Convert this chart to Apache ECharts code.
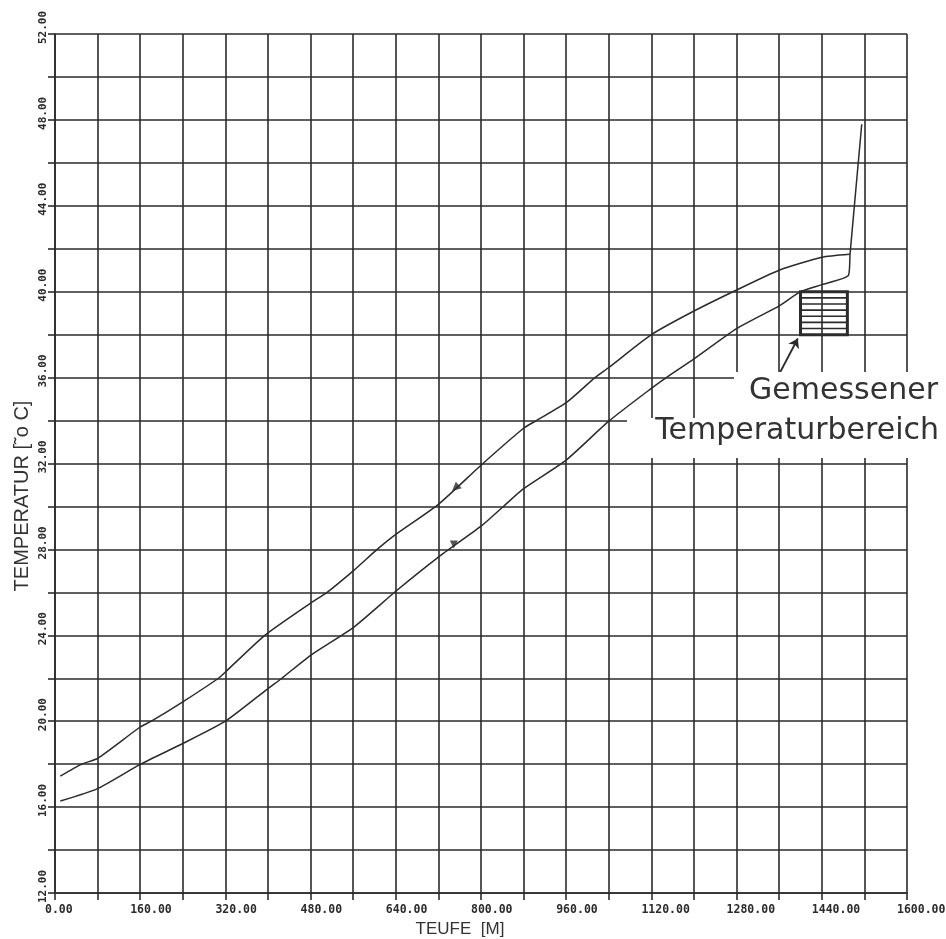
<!DOCTYPE html>
<html><head><meta charset="utf-8">
<script src="https://cdn.jsdelivr.net/npm/echarts@6/dist/echarts.min.js"></script>
<style>html,body{margin:0;padding:0;background:#fff}#c{width:946px;height:939px}</style>
</head><body><div id="c"></div>
<script>
// Upper curve (depth in m, temperature in °C)
const upperDepth = [10,50,80,160,181,240,307,320,394,480,511,560,605,640,720,800,880,904,960,1014,1040,1120,1200,1280,1360,1440,1492];
const upperTemp  = [17.44,18.0,18.27,19.73,20.0,20.9,22.0,22.29,24.0,25.5,26.0,27.0,28.0,28.7,30.1,31.92,33.64,34.0,34.83,36.0,36.47,38.0,39.1,40.08,41.0,41.6,41.74];
// Lower curve
const lowerDepth = [10,80,160,240,320,400,426,480,560,640,720,800,842,880,960,1040,1120,1148,1200,1280,1360,1400,1440,1490,1493,1515];
const lowerTemp  = [16.28,16.86,17.99,18.96,20.0,21.52,22.0,23.07,24.36,26.05,27.64,29.08,30.0,30.83,32.16,33.97,35.5,36.0,36.87,38.28,39.34,40.0,40.33,40.76,41.74,47.8];
// direction markers
const upperMarker = [752, 30.86];
const lowerMarker = [749, 28.23];
// measured temperature range box
const rangeDepth = [1400, 1488];
const rangeTemp  = [38, 40];
// annotation arrow
const arrowFrom = [1362, 36.26];
const arrowTo   = [1395, 37.82];
// tick labels
const xTickLabels = ['0.00','160.00','320.00','480.00','640.00','800.00','960.00','1120.00','1280.00','1440.00','1600.00'];
const yTickLabels = ['12.00','16.00','20.00','24.00','28.00','32.00','36.00','40.00','44.00','48.00','52.00'];
const annotationLines = ['Gemessener', 'Temperaturbereich'];
const xTitle = 'TEUFE  [M]';
const yTitle = 'TEMPERATUR [˜o C]';

const INK = '#2b2b2b';
const zip = (a, b) => a.map((v, i) => [v, b[i]]);

const chart = echarts.init(document.getElementById('c'), null, {renderer: 'canvas'});

chart.setOption({
  animation: false,
  backgroundColor: '#fff',
  grid: {left: 55, right: 39, top: 34, bottom: 46, containLabel: false, outerBoundsMode: 'none'},
  xAxis: {
    type: 'value', min: 0, max: 1600, interval: 80,
    axisLine: {show: true, lineStyle: {color: INK, width: 1.6}},
    axisTick: {show: true, length: 7, lineStyle: {color: INK, width: 1.6}},
    splitLine: {show: true, lineStyle: {color: INK, width: 1.6}},
    axisLabel: {
      margin: 11, align: 'left', verticalAlign: 'top', padding: [0, 0, 0, -10], hideOverlap: false,
      fontFamily: 'DejaVu Sans Mono', fontWeight: 'bold', fontSize: 11.5, color: INK,
      formatter: v => (v % 160 === 0 ? xTickLabels[v / 160] : '')
    }
  },
  yAxis: {
    type: 'value', min: 12, max: 52, interval: 2,
    axisLine: {show: true, lineStyle: {color: INK, width: 1.6}},
    axisTick: {show: true, length: 7, lineStyle: {color: INK, width: 1.6}},
    splitLine: {show: true, lineStyle: {color: INK, width: 1.6}},
    axisLabel: {
      margin: 6, rotate: 90, align: 'left', verticalAlign: 'bottom', padding: [0, 0, 0, -10],
      fontFamily: 'DejaVu Sans Mono', fontWeight: 'bold', fontSize: 11, color: INK,
      formatter: v => (v % 4 === 0 ? yTickLabels[(v - 12) / 4] : '')
    }
  },
  series: [
    {type: 'line', data: zip(upperDepth, upperTemp), showSymbol: false, symbol: 'none', smooth: 0.2,
     lineStyle: {color: INK, width: 1.5}, z: 3},
    {type: 'line', data: zip(lowerDepth, lowerTemp), showSymbol: false, symbol: 'none', smooth: 0.2,
     lineStyle: {color: INK, width: 1.5}, z: 3},
    {type: 'scatter', data: [upperMarker], symbol: 'triangle', symbolSize: 9, symbolRotate: 132,
     itemStyle: {color: INK}, z: 4},
    {type: 'scatter', data: [lowerMarker], symbol: 'triangle', symbolSize: 8, symbolRotate: 180,
     itemStyle: {color: INK}, z: 4},
    {type: 'custom', data: [[rangeDepth[0], rangeDepth[1], rangeTemp[0], rangeTemp[1]]],
     encode: {x: [0, 1], y: [2, 3]}, z: 4,
     renderItem: function (params, api) {
       const p0 = api.coord([api.value(0), api.value(3)]);
       const p1 = api.coord([api.value(1), api.value(2)]);
       const x = p0[0], y = p0[1], w = p1[0] - p0[0], h = p1[1] - p0[1];
       const children = [{type: 'rect', shape: {x: x, y: y, width: w, height: h},
         style: {fill: 'none', stroke: INK, lineWidth: 3}}];
       for (let i = 1; i < 7; i++) {
         const yy = y + h * i / 7;
         children.push({type: 'line', shape: {x1: x, y1: yy, x2: x + w, y2: yy},
           style: {stroke: INK, lineWidth: 1.6}});
       }
       return {type: 'group', children: children};
     }},
    {type: 'lines', coordinateSystem: 'cartesian2d', z: 5,
     data: [{coords: [arrowFrom, arrowTo]}],
     symbol: ['none', 'arrow'], symbolSize: 9,
     lineStyle: {color: INK, width: 1.8, opacity: 1}}
  ],
  graphic: [
    {type: 'rect', z: 100, shape: {x: 734, y: 372, width: 212, height: 47}, style: {fill: '#fff'}},
    {type: 'rect', z: 100, shape: {x: 627, y: 418, width: 319, height: 40}, style: {fill: '#fff'}},
    {type: 'text', z: 101, x: 938, y: 391,
     style: {text: annotationLines[0], fill: '#333', font: '30px "DejaVu Sans"', textAlign: 'right', textVerticalAlign: 'middle'}},
    {type: 'text', z: 101, x: 939, y: 431,
     style: {text: annotationLines[1], fill: '#333', font: '30px "DejaVu Sans"', textAlign: 'right', textVerticalAlign: 'middle'}},
    {type: 'text', z: 101, x: 460, y: 929,
     style: {text: xTitle, fill: '#333', font: '17px "Liberation Sans"', textAlign: 'center', textVerticalAlign: 'middle'}},
    {type: 'text', z: 101, x: 22, y: 496, rotation: Math.PI / 2,
     style: {text: yTitle, fill: '#333', font: '20px "Liberation Sans"', textAlign: 'center', textVerticalAlign: 'middle'}}
  ]
});
</script>
</body></html>
